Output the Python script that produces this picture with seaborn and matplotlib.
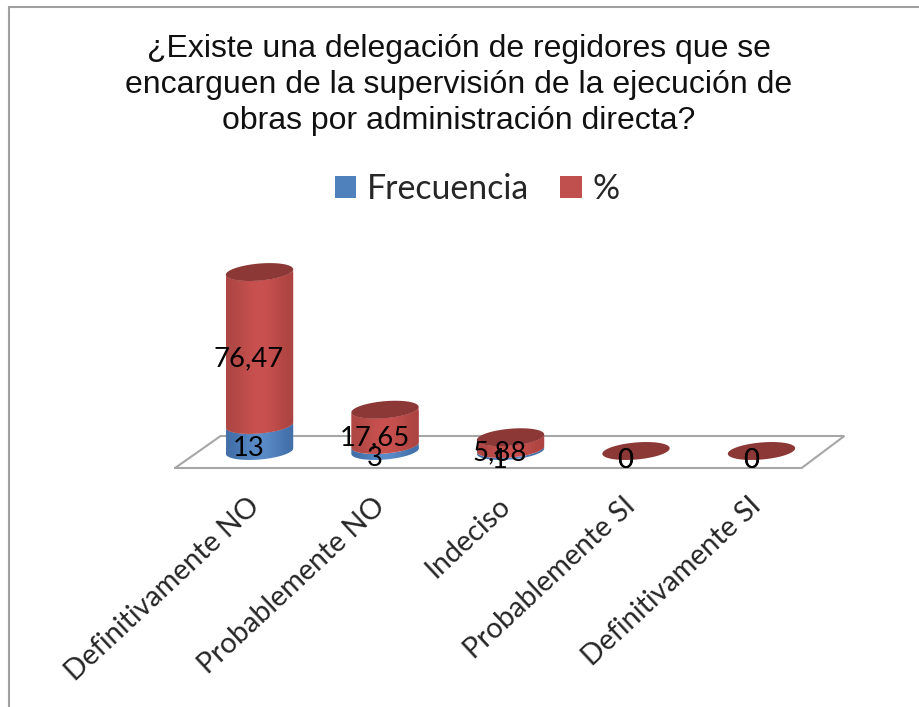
import numpy as np
import matplotlib
matplotlib.use("Agg")
import matplotlib.pyplot as plt
from matplotlib.colors import to_rgb
from matplotlib.lines import Line2D
from matplotlib.patches import Patch, Polygon
from matplotlib.transforms import ScaledTranslation
import seaborn as sns

categories = ["Definitivamente NO", "Probablemente NO", "Indeciso", "Probablemente SI", "Definitivamente SI"]
frecuencia = [13, 3, 1, 0, 0]
porcentaje = [76.47, 17.65, 5.88, 0, 0]
title = "¿Existe una delegación de regidores que se\nencarguen de la supervisión de la ejecución de\nobras por administración directa?"
series_names = ["Frecuencia", "%"]

BLUE, RED = "#4F81BD", "#C0504D"
RED_RAMP = ["#AE4744", "#C9514F", "#CB5250", "#AC4441"]
BLUE_RAMP = ["#426FA8", "#5A8CC8", "#5B8DCA", "#426FA8"]
RED_TOP = "#8C3836"

W, H = 919, 707
LEFT, RIGHT, BASE, TOP = 196.75, 824.25, 451.0, 251.0
PX_X = (RIGHT - LEFT) / 5
PX_Y = (BASE - TOP) / 100
A, B, TILT = 33.8, 8.5, np.radians(5.0)

sns.set_theme(style="white")
plt.rcParams["font.family"] = ["Lato", "DejaVu Sans"]

fig = plt.figure(figsize=(W / 100, H / 100), dpi=100, facecolor="white")
ax = fig.add_axes([LEFT / W, 1 - BASE / H, (RIGHT - LEFT) / W, (BASE - TOP) / H])

bar_w = 2 * A / PX_X
sns.barplot(x=categories, y=frecuencia, color=BLUE, saturation=1, width=bar_w, ax=ax, zorder=2)
sns.barplot(x=categories, y=porcentaje, bottom=frecuencia, color=RED, saturation=1, width=bar_w, ax=ax, zorder=2)
ax.set_xlim(-0.5, 4.5)
ax.set_ylim(0, 100)


def arc(cx, y0, t):
    dx = A * np.cos(t) * np.cos(TILT) - B * np.sin(t) * np.sin(TILT)
    dy = A * np.cos(t) * np.sin(TILT) + B * np.sin(t) * np.cos(TILT)
    return cx + dx / PX_X, y0 + dy / PX_Y


def cylinder_side(cx, y0, y1, ramp, bar):
    t = np.linspace(np.pi, 2 * np.pi, 60)
    x0, yy0 = arc(cx, y0, t)
    x1, yy1 = arc(cx, y1, t[::-1])
    poly = Polygon(np.c_[np.r_[x0, x1], np.r_[yy0, yy1]], closed=True,
                   transform=ax.transData, fc="none", ec="none")
    poly.set_clip_on(False)
    ax.add_patch(poly)
    img = np.array([[to_rgb(c) for c in ramp]])
    half = A / PX_X
    pad = 2 * B / PX_Y
    im = ax.imshow(img, extent=(cx - half, cx + half, y0 - pad, y1 + pad),
                   aspect="auto", interpolation="bicubic", zorder=3)
    im.set_clip_box(fig.bbox)
    im.set_clip_path(poly)
    bar.set_clip_path(poly)


for i, (f, p) in enumerate(zip(frecuencia, porcentaje)):
    if f > 0:
        cylinder_side(i, 0, f, BLUE_RAMP, ax.containers[0][i])
    if p > 0:
        cylinder_side(i, f, f + p, RED_RAMP, ax.containers[1][i])
    t = np.linspace(0, 2 * np.pi, 120)
    ex, ey = arc(i, f + p, t)
    ax.fill(ex, ey, color=RED_TOP, lw=0, zorder=4, clip_on=False)

ax.set_xlim(-0.5, 4.5)
ax.set_ylim(0, 100)

# floor of the 3D plot
floor_x = [-0.673, 4.32, 4.66, -0.31, -0.673]
floor_y = [-8.5, -8.5, 7.5, 7.5, -8.5]
ax.plot(floor_x, floor_y, color="#A6A6A6", lw=1.5, clip_on=False, zorder=1, solid_joinstyle="miter")


def fmt_pct(v):
    return "0" if v == 0 else f"{v:.2f}".replace(".", ",")


label_style = dict(textcoords="offset points", ha="center", va="center", fontsize=19.7,
                   color="black", zorder=6, annotation_clip=False)
for i, (f, p) in enumerate(zip(frecuencia, porcentaje)):
    ax.annotate(str(f), (i, f / 2), xytext=(-7.6, -7.2), **label_style)
    ax.annotate(fmt_pct(p), (i, f + p / 2), xytext=(-7.6, -7.2), **label_style)

ax.set_xticks(range(len(categories)))
ax.set_xticklabels(categories, rotation=43, ha="right", va="top", rotation_mode="anchor", fontsize=20.6)
ax.tick_params(axis="x", length=0, pad=30)
shift = ScaledTranslation(-13 / 100, 0, fig.dpi_scale_trans)
for lab in ax.get_xticklabels():
    lab.set_transform(lab.get_transform() + shift)
ax.set_yticks([])
ax.set_xlabel("")
ax.set_ylabel("")
sns.despine(ax=ax, left=True, bottom=True, top=True, right=True)

handles = [Patch(fc=BLUE, ec="none", label=series_names[0]), Patch(fc=RED, ec="none", label=series_names[1])]
fig.legend(handles=handles, loc="center", bbox_to_anchor=(477 / W, 1 - 189 / H), ncol=2, frameon=False,
           fontsize=24.4, handlelength=0.62, handleheight=0.62, handletextpad=0.32, columnspacing=0.94)

fig.text(459 / W, 1 - 85 / H, title, ha="center", va="center", fontsize=23,
         family="Liberation Sans", color="#111111", linespacing=1.245)

fig.add_artist(Line2D([8.5 / W, 8.5 / W, 1], [0, 1 - 7 / H, 1 - 7 / H], color="#A0A0A0", lw=1.5, solid_joinstyle="miter"))

fig.savefig("out.png", dpi=100)
